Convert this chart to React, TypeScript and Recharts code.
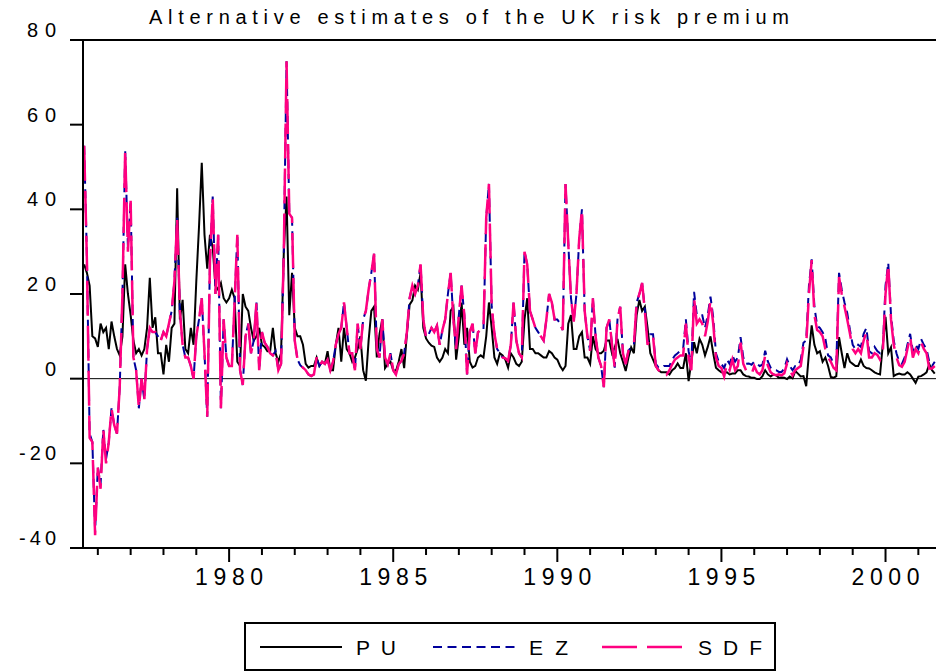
import React from "react";
import { LineChart, Line, XAxis, YAxis, ReferenceLine } from "recharts";

// monthly observations, first one is August 1975
const startYear = 1975 + 7 / 12;

const pu = [
  27, 25, 22, 10, 9.5,
  7.5, 13, 11, 12, 7, 13.5, 10, 7, 5.5, 10, 27, 20,
  15, 9, 6, 7, 5.5, 7, 12, 23.8, 12, 14.5, 6, 6,
  1, 8, 4, 12, 13, 45, 14, 18.6, 7, 6, 12, 8,
  23, 36, 51, 34, 26, 34, 31, 22, 21, 22.6, 19, 18,
  19, 21, 19, 4, 3, 20, 17, 16, 12, 9, 10, 12,
  8, 7.5, 6.5, 6.5, 12, 6, 4, 6, 30, 43, 15, 25,
  12, 10, 10, 8, 3.5, 2.6, 3, 3, 5, 3, 4, 3.5,
  6.5, 2, 2, 8, 12, 4, 12, 7, 6, 4, 5, 7,
  10, 2, -0.5, 9, 16, 17, 5, 10.6, 14, 2.5, 3.5, 4,
  2, 1.8, 4, 7, 2.5, 10.6, 17.5, 18.5, 22, 21, 25, 12,
  9.5, 8.5, 7.8, 7.5, 5, 4, 5, 7, 6, 16, 17, 4.5,
  10, 18, 8, 12, 4, 2.6, 3, 5, 5.5, 5, 10, 18,
  12, 5, 3.5, 6, 5.5, 4.5, 2.6, 6, 5, 3.5, 3, 4,
  14, 19, 7, 7, 6, 6, 5.5, 5, 5, 6.5, 6, 5,
  4.5, 3, 2, 3, 13, 15, 7, 7, 10, 11, 5, 5,
  3.5, 10, 7, 6, 6, 6.6, 9, 9, 6, 7.4, 9.4, 6,
  4, 1.8, 5, 7.4, 6, 15, 18.6, 16, 17, 12, 6, 4.5,
  3, 2, 1.5, 1.5, 1.5, 1, 2, 2.5, 3.6, 2.5, 2.5, 6,
  -0.6, 4, 8.6, 6, 9.4, 8, 5.5, 7.5, 10, 6, 2.6, 2,
  1.5, 1.4, 1.5, 1, 1.2, 1.2, 2, 2, 1, 0.6, 0.5, 0.2,
  0.2, -0.1, -0.1, 0.6, 2, 1, 0.5, 1, 0.8, 0.2, 0.3, 0.2,
  -0.1, 0.5, 0.1, 1.8, 1.2, 0.5, 0.6, -1.8, 6, 12.6, 8, 6,
  6.5, 4, 5, 3, 0.4, 0.2, 0.6, 9.8, 6, 2.5, 6, 4,
  3.5, 3, 3, 4.5, 3, 2.5, 2.4, 2, 1.5, 1.2, 1, 8,
  14.6, 6, 7.4, 0.6, 1, 1.2, 1, 1, 1.5, 1, 0, -1,
  0.5, 0.6, 1, 1.5, 3.4, 2, 1.2,
];

const ez = [
  55, 29, -13, -15, -36,
  -21, -25, -12, -19, -15, -7, -11, -13, -2, 20, 54, 31,
  42, 5, 2, -7, 0, -5, 7, 12, 11, 11, 10, 9,
  11, 10, 13, 16, 23, 38, 16, 8, 5, 5, 3, 0,
  10, 14, 19, 6, -9, 28, 43, 20, 34, -7, 14, 5,
  3, 3, 18, 34, 2, -1.5, 10, 13, 6, 9, 18, 2,
  11, 8.5, 7.5, 6, 5.5, 6.5, 2, 3.5, 30, 75, 39, 38,
  9, 4.5, 3.2, 2.6, 2, 1, 0.6, 1, 5, 3, 4, 3.5,
  4.5, 2, 4, 8, 10.5, 12, 18, 12, 6, 6, 2, 13,
  7, 14, 16, 21, 25, 29.5, 7, 5, 14, 5, 3.4, 6,
  2, 1, 3.4, 4.2, 6, 11, 19, 22, 20, 22, 27, 14,
  9.8, 10.5, 12, 11, 12.5, 8, 11.5, 14, 20, 25, 14, 7,
  15, 22, 15, 1, 11, 13, 6, 11, 11.5, 11.5, 38, 46,
  17, 10.6, 7, 6, 5, 4.8, 4.2, 8, 18, 9, 6, 5,
  30, 27, 16, 14, 12, 11, 10, 9, 14, 20, 18, 14,
  14, 13, 11.5, 46, 32, 19, 13.5, 20, 33, 40, 16, 10,
  6.6, 19, 10, 5, 3, -2, 12, 14, 8, 2.6, 14, 17,
  6, 3.4, 6.6, 7.4, 8, 18, 20, 22.6, 16.5, 8.5, 10.5, 10.5,
  3.5, 2.6, 2.5, 3, 3, 3, 4.5, 5.5, 6, 6.6, 7, 14,
  6.5, 3.5, 20.5, 15, 15, 15, 12, 15, 19.4, 14.5, 6, 4,
  3.5, 2.5, 4.5, 3.5, 5.5, 4, 5, 9.8, 5, 3.5, 3.6, 3.3,
  4, 3.5, 3, 3.3, 6.6, 4, 2.6, 2, 2, 1.6, 1.6, 2.4,
  4.6, 3, 2, 3, 3, 4.5, 8.5, 9, 22, 28.2, 17, 12.5,
  12, 11, 9.5, 5.5, 5, 3.5, 3.5, 25, 21, 18, 15.5, 11.5,
  8, 7, 8, 7.5, 10.6, 12, 6.5, 6, 7.5, 6.5, 6, 7,
  22, 27.4, 15, 9, 6, 4, 3.5, 5, 8, 10.6, 6.5, 8,
  7, 9.4, 8, 7, 4, 3, 4,
];

const sdf = [
  55, 28, -14, -15, -37,
  -21, -26, -12, -20, -15, -7, -11, -13, -2, 20, 54, 30,
  42, 5, 2, -7, 0, -5, 7, 12, 11, 11, 10, 9,
  11, 10, 13, 16, 23, 38, 16, 8, 5, 5, 3, 0,
  10, 14, 19, 6, -9, 28, 43, 20, 34, -7, 14, 5,
  3, 3, 18, 34, 2, -1.5, 10, 13, 6, 9, 18, 2,
  11, 8.5, 7.5, 6, 5.5, 6.5, 2, 3.5, 30, 75, 39, 38,
  9, 4.5, 3.2, 2.6, 2, 1, 0.6, 1, 5, 3, 4, 3.5,
  4.5, 2, 4, 8, 10.5, 12, 18, 12, 6, 6, 2, 13,
  7, 14, 16, 21, 25, 29.5, 7, 5, 14, 5, 3.4, 6,
  2, 1, 3.4, 4.2, 6, 11, 19, 22, 20, 22, 27, 14,
  9.8, 10.5, 12, 11, 12.5, 8, 11.5, 14, 20, 25, 14, 7,
  15, 22, 15, 1, 11, 13, 6, 11, 11.5, 11.5, 38, 46,
  17, 10.6, 7, 6, 5, 4.8, 4.2, 8, 18, 9, 6, 5,
  30, 27, 16, 14, 12, 11, 10, 9, 14, 20, 18, 14,
  14, 13, 11.5, 46, 32, 19, 13.5, 20, 33, 40, 16, 10,
  6.6, 19, 10, 5, 3, -2, 12, 14, 8, 2.6, 14, 17,
  6, 3.4, 6.6, 7.4, 8, 18, 20, 22.6, 16, 8, 10, 10,
  3, 2, 1.5, 2, 1, 2, 3.4, 4.5, 5, 5.5, 5.5, 13,
  5, 2, 19, 13, 14, 13, 10, 13.5, 18.5, 13, 5, 3,
  2.5, 0.5, 3.5, 2, 4.5, 2, 3, 8.5, 3.5, 2, 1.5, 1,
  3, 1.5, 1, 2, 5.5, 3, 1.5, 1, 0.8, 1, 0.8, 1.3,
  3.6, 2, 0.8, 2, 2.5, 3, 7.5, 8, 20, 28, 15, 11.5,
  11, 10, 7, 5, 4, 2.6, 2, 24, 20, 17, 14, 10.6,
  7, 6, 7, 6, 9, 11, 5, 5, 6, 5.6, 4.5, 6,
  20, 27, 14, 8, 5, 3.2, 2.8, 4, 7, 10, 5, 7,
  6, 8.6, 7, 6, 2.4, 2.4, 3,
];

const yTicks = [-40, -20, 0, 20, 40, 60, 80];
const yearTicks = [1976, 1977, 1978, 1979, 1980, 1981, 1982, 1983, 1984, 1985, 1986, 1987, 1988,
  1989, 1990, 1991, 1992, 1993, 1994, 1995, 1996, 1997, 1998, 1999, 2000, 2001];

const rows = pu.map((v, i) => ({
  t: startYear + i / 12,
  PU: v,
  EZ: ez[i],
  SDF: sdf[i],
}));

const FONT = "'Liberation Sans', Arial, sans-serif";
const PINK = "#ff0080";
const NAVY = "#00009c";

const AXIS_X = 83;
const AXIS_Y = 548;

function XTick(props: any) {
  const { x, payload } = props;
  const year = payload.value;
  const major = year % 5 === 0;
  return (
    <g>
      <line x1={x} x2={x} y1={AXIS_Y} y2={major ? 562 : 555} stroke="#000" strokeWidth={2} />
      {major && (
        <text x={x} y={585} textAnchor="middle" fontSize={23} fontFamily={FONT} fill="#000"
          textLength={68} lengthAdjust="spacing">
          {year}
        </text>
      )}
    </g>
  );
}

function YTick(props: any) {
  const { y, payload } = props;
  const label = String(payload.value);
  const w = label.length === 1 ? undefined : label.startsWith("-") ? 37 : 29;
  return (
    <g>
      <line x1={70} x2={AXIS_X} y1={y} y2={y} stroke="#000" strokeWidth={2} />
      <text x={56} y={y - 3} textAnchor="end" fontSize={20} fontFamily={FONT} fill="#000"
        textLength={w} lengthAdjust={w ? "spacing" : undefined}>
        {label}
      </text>
    </g>
  );
}

function Overlay() {
  const items = [
    { name: "PU", x: 260, color: "#000", dash: undefined, width: 2, tl: 40 },
    { name: "EZ", x: 433, color: NAVY, dash: "9 5.5", width: 2, tl: 39 },
    { name: "SDF", x: 602, color: PINK, dash: "35 10", width: 2.5, tl: 64 },
  ];
  return (
    <svg width={936} height={672} style={{ position: "absolute", left: 0, top: 0, pointerEvents: "none" }}>
      <text x={469} y={24} textAnchor="middle" fontSize={20} fontFamily={FONT} fill="#000"
        textLength={640} lengthAdjust="spacing">
        Alternative estimates of the UK risk premium
      </text>
      <rect x={245} y={623} width={530} height={47} fill="none" stroke="#000" strokeWidth={2} />
      {items.map((it) => (
        <g key={it.name}>
          <line x1={it.x} x2={it.x + 82} y1={647} y2={647} stroke={it.color} strokeWidth={it.width}
            strokeDasharray={it.dash} />
          <text x={it.x + 96} y={655} fontSize={21} fontFamily={FONT} fill="#000"
            textLength={it.tl} lengthAdjust="spacing">
            {it.name}
          </text>
        </g>
      ))}
    </svg>
  );
}

export default function App() {
  return (
    <div style={{ position: "absolute", left: 0, top: 0, width: 936, height: 672, background: "#fff" }}>
      <LineChart width={936} height={672} data={rows} margin={{ top: 40, right: 0, left: 0, bottom: 0 }}>
        <XAxis
          dataKey="t"
          type="number"
          domain={[1975.548, 2001.538]}
          ticks={yearTicks}
          interval={0}
          height={124}
          tickLine={false}
          tick={XTick}
          axisLine={{ stroke: "#000", strokeWidth: 2 }}
          allowDataOverflow
        />
        <YAxis
          domain={[-40, 80]}
          ticks={yTicks}
          interval={0}
          width={AXIS_X}
          tickLine={false}
          tick={YTick}
          axisLine={{ stroke: "#000", strokeWidth: 2 }}
          allowDataOverflow
        />
        <ReferenceLine y={80} stroke="#000" strokeWidth={2} />
        <ReferenceLine y={0} stroke="#000" strokeWidth={1} />
        <Line dataKey="PU" stroke="#000" strokeWidth={2} dot={false} isAnimationActive={false} type="linear" />
        <Line dataKey="EZ" stroke={NAVY} strokeWidth={2} strokeDasharray="9 5.5" dot={false}
          isAnimationActive={false} type="linear" />
        <Line dataKey="SDF" stroke={PINK} strokeWidth={2.5} strokeDasharray="35 10" dot={false}
          isAnimationActive={false} type="linear" />
      </LineChart>
      <Overlay />
    </div>
  );
}
